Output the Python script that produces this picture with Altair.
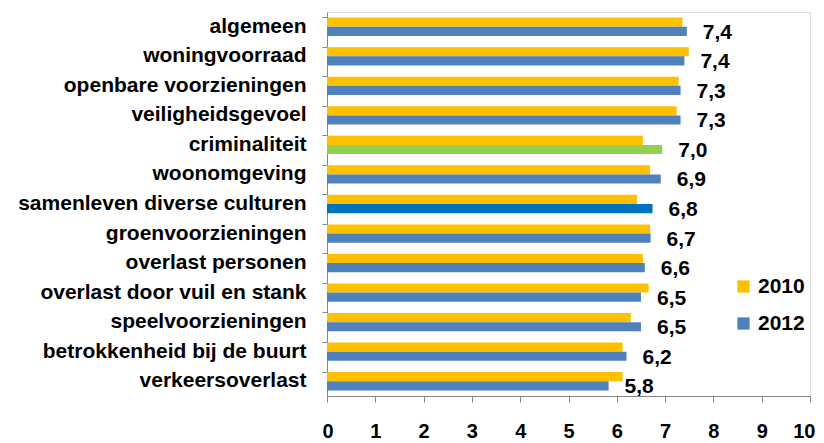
import altair as alt
import pandas as pd

categories = [
    "algemeen",
    "woningvoorraad",
    "openbare voorzieningen",
    "veiligheidsgevoel",
    "criminaliteit",
    "woonomgeving",
    "samenleven diverse culturen",
    "groenvoorzieningen",
    "overlast personen",
    "overlast door vuil en stank",
    "speelvoorzieningen",
    "betrokkenheid bij de buurt",
    "verkeersoverlast",
]
values_2010 = [7.36, 7.49, 7.28, 7.24, 6.54, 6.69, 6.42, 6.69, 6.54, 6.66, 6.29, 6.12, 6.12]
values_2012 = [7.45, 7.40, 7.32, 7.32, 6.94, 6.91, 6.74, 6.70, 6.58, 6.50, 6.50, 6.20, 5.83]
labels_2012 = ["7,4", "7,4", "7,3", "7,3", "7,0", "6,9", "6,8", "6,7", "6,6", "6,5", "6,5", "6,2", "5,8"]
highlight_2012 = {"criminaliteit": "crim", "samenleven diverse culturen": "samen"}

series_names = ["2010", "2012"]
color_domain = ["2010", "2012", "crim", "samen"]
color_range = ["#FFC000", "#4F81BD", "#92D050", "#0070C0"]

rows = []
for c, a, b in zip(categories, values_2010, values_2012):
    rows.append({"cat": c, "series": "2010", "value": a, "ckey": "2010"})
    rows.append({"cat": c, "series": "2012", "value": b, "ckey": highlight_2012.get(c, "2012")})
bars_df = pd.DataFrame(rows)
labels_df = pd.DataFrame({"cat": categories, "value": values_2012, "label": labels_2012})

FONT = "Liberation Sans"

y_enc = alt.Y(
    "cat:N",
    sort=categories,
    title=None,
    scale=alt.Scale(paddingInner=0.38, paddingOuter=0.19),
    axis=alt.Axis(
        bandPosition=0,
        domainColor="#868686",
        tickColor="#868686",
        tickSize=5,
        labelPadding=16,
        labelFont=FONT,
        labelFontSize=21,
        labelFontWeight="bold",
        labelColor="#000000",
        labelLimit=400,
    ),
)

x_enc = alt.X(
    "value:Q",
    title=None,
    scale=alt.Scale(domain=[0, 10], nice=False),
    axis=alt.Axis(
        values=list(range(0, 11)),
        grid=False,
        domainColor="#868686",
        tickColor="#868686",
        tickSize=6,
        labelPadding=19,
        labelFont=FONT,
        labelFontSize=20,
        labelFontWeight="bold",
        labelColor="#000000",
        labelFlush=True,
        labelFlushOffset=5,
    ),
)

bars = alt.Chart(bars_df).mark_bar().encode(
    y=y_enc,
    x=x_enc,
    yOffset=alt.YOffset("series:N", sort=series_names),
    color=alt.Color(
        "ckey:N",
        scale=alt.Scale(domain=color_domain, range=color_range),
        legend=alt.Legend(
            values=series_names,
            title=None,
            orient="none",
            legendX=406,
            legendY=264,
            symbolType="square",
            symbolSize=150,
            symbolStrokeWidth=0,
            labelFont=FONT,
            labelFontSize=21,
            labelFontWeight="bold",
            labelColor="#000000",
            labelOffset=4,
            rowPadding=15,
            padding=0,
        ),
    ),
)

text = alt.Chart(labels_df).mark_text(
    align="left",
    baseline="middle",
    dx=16,
    dy=6,
    font=FONT,
    fontSize=21,
    fontWeight="bold",
    color="#000000",
).encode(
    y=alt.Y("cat:N", sort=categories),
    x=alt.X("value:Q"),
    text="label:N",
)

chart = (
    alt.layer(bars, text)
    .properties(
        width=483,
        height=384,
        autosize=alt.AutoSizeParams(type="none"),
        padding={"left": 319, "top": 4, "right": 6, "bottom": 45},
    )
    .configure_view(stroke=None)
    .configure(background="#ffffff")
)

chart.save("out.html", embed_options={"renderer": "svg", "actions": False})
